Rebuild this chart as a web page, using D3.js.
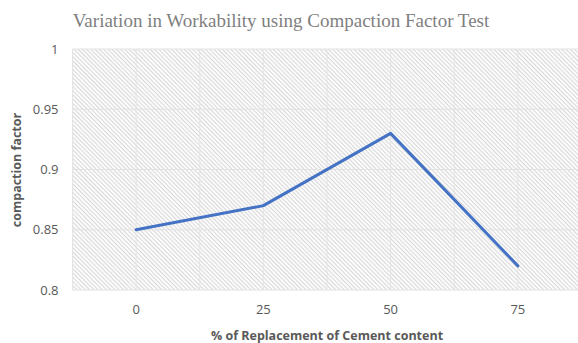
<!DOCTYPE html>
<html>
<head>
<meta charset="utf-8">
<script src="https://cdn.jsdelivr.net/npm/d3@7"></script>
<style>
  html, body { margin: 0; padding: 0; background: #fff; }
  svg { display: block; }
</style>
</head>
<body>
<svg id="chart" width="578" height="343"></svg>
<script>
// Compaction factor test results
const categories = ["0", "25", "50", "75"];
const compactionFactor = [0.85, 0.87, 0.93, 0.82];
const yTicks = [0.8, 0.85, 0.9, 0.95, 1];
const yTickLabels = ["0.8", "0.85", "0.9", "0.95", "1"];

const titleText = "Variation in Workability using Compaction Factor Test";
const xTitle = "% of Replacement of Cement content";
const yTitle = "compaction factor";

const svg = d3.select("#chart");
const plot = { left: 72.5, top: 49, right: 581.5, bottom: 290 };

const x = d3.scaleBand().domain(categories).range([plot.left, plot.right]).padding(0);
const y = d3.scaleLinear().domain([0.8, 1]).range([plot.bottom, plot.top]);

// downward diagonal hatch fill for the plot area
const defs = svg.append("defs");
const pat = defs.append("pattern")
  .attr("id", "hatch")
  .attr("patternUnits", "userSpaceOnUse")
  .attr("width", 3).attr("height", 3)
  .attr("patternTransform", "rotate(45)");
pat.append("rect").attr("width", 3).attr("height", 3).attr("fill", "#ffffff");
pat.append("rect").attr("x", 0).attr("y", 0).attr("width", 3).attr("height", 1.2).attr("fill", "#d9d9d9");

svg.append("rect")
  .attr("x", plot.left).attr("y", plot.top)
  .attr("width", plot.right - plot.left).attr("height", plot.bottom - plot.top)
  .attr("fill", "url(#hatch)");

// horizontal gridlines
svg.append("g").selectAll("line").data(yTicks).join("line")
  .attr("x1", plot.left).attr("x2", plot.right)
  .attr("y1", d => y(d)).attr("y2", d => y(d))
  .attr("stroke", "#e2e2e2").attr("stroke-width", 1);

// vertical gridlines at band edges and centres
const half = x.bandwidth() / 2;
const vLines = [];
categories.forEach(c => { vLines.push(x(c)); vLines.push(x(c) + half); });
vLines.push(plot.right);
svg.append("g").selectAll("line").data(vLines).join("line")
  .attr("x1", d => d).attr("x2", d => d)
  .attr("y1", plot.top).attr("y2", plot.bottom)
  .attr("stroke", "#e4e4e4").attr("stroke-width", 1);

// y axis labels
const yAxis = d3.axisLeft(y).tickValues(yTicks).tickFormat((d, i) => yTickLabels[i]).tickSize(0).tickPadding(14);
const gy = svg.append("g").attr("transform", `translate(${plot.left},0)`).call(yAxis);
gy.select(".domain").remove();
gy.selectAll("text").attr("font-family", "'Open Sans', sans-serif").attr("font-size", 13).attr("fill", "#595959");

// x axis labels
const xAxis = d3.axisBottom(x).tickSize(0).tickPadding(15);
const gx = svg.append("g").attr("transform", `translate(0,${plot.bottom})`).call(xAxis);
gx.select(".domain").remove();
gx.selectAll("text").attr("font-family", "'Open Sans', sans-serif").attr("font-size", 13).attr("fill", "#595959");

// series line
const line = d3.line()
  .x((d, i) => x(categories[i]) + half)
  .y(d => y(d));
svg.append("path")
  .datum(compactionFactor)
  .attr("d", line)
  .attr("fill", "none")
  .attr("stroke", "#4472C4")
  .attr("stroke-width", 3)
  .attr("stroke-linejoin", "round")
  .attr("stroke-linecap", "round");

// titles
svg.append("text")
  .attr("x", 281).attr("y", 27)
  .attr("text-anchor", "middle")
  .attr("font-family", "'Liberation Serif', 'Times New Roman', serif")
  .attr("font-size", 19)
  .attr("fill", "#7f7f7f")
  .text(titleText);

svg.append("text")
  .attr("x", 327).attr("y", 340)
  .attr("text-anchor", "middle")
  .attr("font-family", "'Open Sans', sans-serif")
  .attr("font-weight", "bold")
  .attr("font-size", 12.5)
  .attr("fill", "#595959")
  .text(xTitle);

svg.append("text")
  .attr("transform", "translate(21,170) rotate(-90)")
  .attr("text-anchor", "middle")
  .attr("font-family", "'Open Sans', sans-serif")
  .attr("font-weight", "bold")
  .attr("font-size", 12.5)
  .attr("fill", "#595959")
  .text(yTitle);
</script>
</body>
</html>
